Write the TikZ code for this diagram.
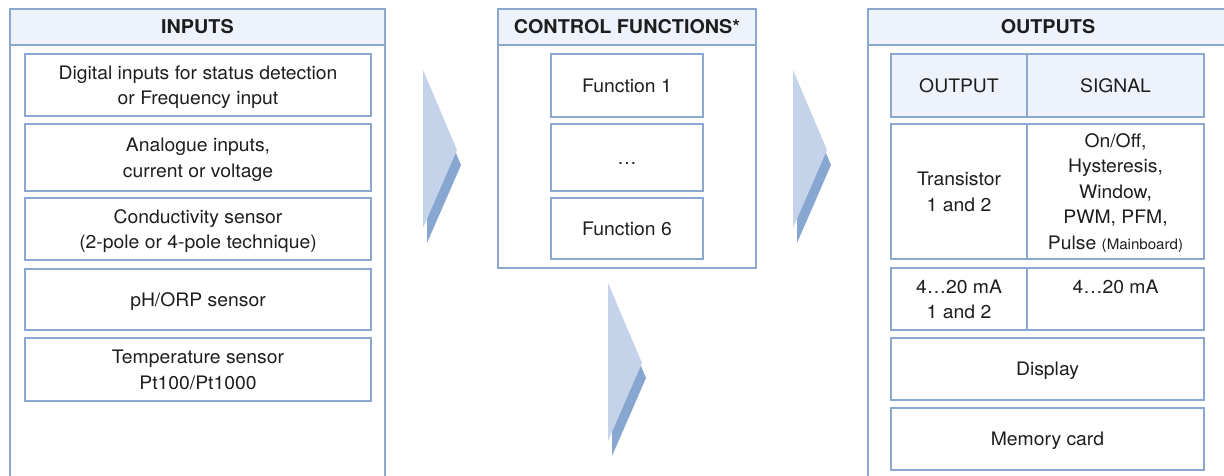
\documentclass[tikz,border=0pt]{standalone}
\usepackage{fontspec}
\setmainfont{TeX Gyre Heros}[FakeStretch=1.04]
\definecolor{bord}{RGB}{138,168,210}
\definecolor{headfill}{RGB}{238,242,251}
\definecolor{arrlight}{RGB}{197,211,234}
\definecolor{arrdark}{RGB}{135,166,208}
\definecolor{txt}{RGB}{30,30,30}
\newcommand\mychevron[2]{%
  \begin{scope}[shift={(#1,#2)}]
    \fill[arrdark] (17,45) -- (38,95) -- (4,173) -- (4,130) -- cycle;
    \fill[arrlight] (0,0) -- (34,80) -- (0,158) -- cycle;
  \end{scope}}
\begin{document}
\begin{tikzpicture}[x=1pt,y=-1pt,
  every node/.style={text=txt, font=\fontsize{18.6}{25.5}\selectfont, inner sep=0pt, outer sep=0pt},
  ibox/.style={draw=bord, line width=2.6pt, fill=white, align=center, text depth=0pt},
  hcell/.style={ibox, fill=headfill},
  frame/.style={draw=bord, line width=2pt},
  hbar/.style={frame, fill=headfill, font=\fontsize{19}{24}\selectfont\bfseries},
]
\useasboundingbox (0,0) rectangle (1224,475);
\clip (0,0) rectangle (1224,475);
\fill[white] (0,0) rectangle (1224,475);

% ---------- INPUTS ----------
\draw[frame] (10,480) -- (10,9) -- (385,9) -- (385,480);
\node[hbar, minimum width=375pt, minimum height=36pt] (inh) at (197.5,27) {INPUTS};
\node[ibox, minimum width=346pt, minimum height=62pt] (in1) at (198,85)
  {Digital inputs for status detection\\or Frequency input};
\node[ibox, minimum width=346pt, minimum height=67pt] (in2) at (198,157.5)
  {Analogue inputs,\\current or voltage};
\node[ibox, minimum width=346pt, minimum height=62pt] (in3) at (198,229)
  {Conductivity sensor\\(2-pole or 4-pole technique)};
\node[ibox, minimum width=346pt, minimum height=61pt] (in4) at (198,299.5)
  {pH/ORP sensor};
\node[ibox, minimum width=346pt, minimum height=63pt] (in5) at (198,369.5)
  {Temperature sensor\\Pt100/Pt1000};

% ---------- CONTROL FUNCTIONS ----------
\draw[frame] (498,9) rectangle (756,268);
\node[hbar, minimum width=258pt, minimum height=36pt] (cfh) at (627,27) {CONTROL FUNCTIONS*};
\node[ibox, minimum width=152pt, minimum height=63pt] (cf1) at (627,85.5) {Function 1};
\node[ibox, minimum width=152pt, minimum height=67pt] (cf2) at (627,157.5) {\vphantom{F}…};
\node[ibox, minimum width=152pt, minimum height=61pt] (cf6) at (627,228.5) {Function 6};

% ---------- OUTPUTS ----------
\draw[frame] (868,480) -- (868,9) -- (1228,9) -- (1228,480);
\node[hbar, minimum width=360pt, minimum height=36pt] (outh) at (1048,27) {OUTPUTS};
\node[hcell, minimum width=136pt, minimum height=63pt] (hOut) at (959,85.5) {OUTPUT};
\node[hcell, minimum width=177pt, minimum height=63pt] (hSig) at (1115.5,85.5) {SIGNAL};
\node[ibox, minimum width=136pt, minimum height=135pt] (tOut) at (959,191.5)
  {Transistor\\1 and 2};
\node[ibox, minimum width=177pt, minimum height=135pt] (tSig) at (1115.5,191.5)
  {On/Off,\\Hysteresis,\\Window,\\PWM, PFM,\\Pulse {\fontsize{14.5}{20}\selectfont (Mainboard)}};
\node[ibox, minimum width=136pt, minimum height=62pt] (aOut) at (959,299)
  {4…20 mA\\1 and 2};
\node[ibox, minimum width=177pt, minimum height=62pt] (aSig) at (1115.5,299)
  {4…20 mA\\\phantom{1 and 2}};
\node[ibox, minimum width=313pt, minimum height=62pt] (disp) at (1047.5,369) {Display};
\node[ibox, minimum width=313pt, minimum height=62pt] (mem) at (1047.5,439) {Memory card};

% ---------- chevrons ----------
\mychevron{423}{70}
\mychevron{793}{70}
\mychevron{608}{283}
\end{tikzpicture}
\end{document}
